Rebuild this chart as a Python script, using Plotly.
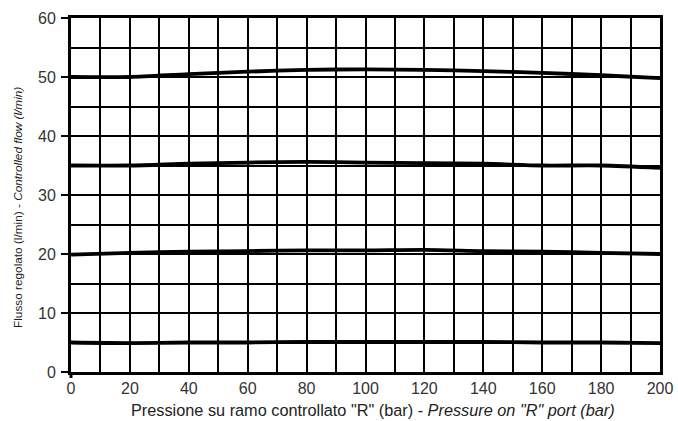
import plotly.graph_objects as go

pressure = [0, 20, 40, 60, 80, 100, 120, 140, 160, 180, 200]
flow_50 = [50.0, 50.0, 50.5, 50.9, 51.2, 51.3, 51.2, 51.0, 50.7, 50.3, 49.8]
flow_35 = [35.0, 35.0, 35.3, 35.5, 35.6, 35.5, 35.4, 35.3, 35.0, 35.0, 34.6]
flow_20 = [19.9, 20.2, 20.4, 20.5, 20.6, 20.6, 20.7, 20.5, 20.4, 20.2, 20.0]
flow_5 = [5.0, 4.9, 5.0, 5.0, 5.1, 5.1, 5.1, 5.1, 5.0, 5.0, 4.9]

x_ticks = [0, 20, 40, 60, 80, 100, 120, 140, 160, 180, 200]
y_ticks = [0, 10, 20, 30, 40, 50, 60]

x_title = 'Pressione su ramo controllato "R" (bar) - <i>Pressure on "R" port (bar)</i>'
y_title = "Flusso regolato (l/min) - <i>Controlled flow (l/min)</i>"

fig = go.Figure()
for ys in (flow_50, flow_35, flow_20, flow_5):
    fig.add_trace(go.Scatter(x=pressure, y=ys, mode="lines",
                             line=dict(color="black", width=3.8, shape="spline", smoothing=0.8),
                             showlegend=False, hoverinfo="skip"))

fam = "Liberation Sans, Arial, sans-serif"

fig.update_layout(
    width=678, height=421,
    margin=dict(l=71, r=18, t=18, b=49),
    paper_bgcolor="white", plot_bgcolor="white",
    font=dict(family=fam, size=15, color="#333333"),
    xaxis=dict(range=[0, 200], tickvals=x_ticks, showgrid=True, gridcolor="black", gridwidth=1.6,
               minor=dict(dtick=10, showgrid=True, gridcolor="black", gridwidth=1.6),
               showline=True, linecolor="black", linewidth=2.5, mirror=True,
               ticks="", zeroline=False, automargin=False,
               tickfont=dict(size=16, color="#333333")),
    yaxis=dict(range=[0, 60], tickvals=y_ticks, showgrid=True, gridcolor="black", gridwidth=1.6,
               minor=dict(dtick=5, showgrid=True, gridcolor="black", gridwidth=1.6),
               showline=True, linecolor="black", linewidth=3, mirror=True,
               ticks="outside", ticklen=7, tickwidth=2, tickcolor="black", zeroline=False,
               automargin=False, ticklabelstandoff=2,
               tickfont=dict(size=16, color="#333333")),
    shapes=[dict(type="line", xref="paper", yref="paper", x0=0, x1=0, y0=0, y1=-6 / 354,
                 line=dict(color="black", width=3))],
    annotations=[
        dict(text=x_title, xref="paper", yref="paper", x=(373 - 71) / 589, y=-(410 - 372) / 354,
             xanchor="center", yanchor="middle", showarrow=False,
             font=dict(family=fam, size=16.3, color="#222222")),
        dict(text=y_title, xref="paper", yref="paper", x=-(71 - 18) / 589, y=(372 - 208) / 354,
             xanchor="center", yanchor="middle", showarrow=False, textangle=-90,
             font=dict(family=fam, size=11.8, color="#222222")),
    ],
)

fig.write_html("out.html", config={"displayModeBar": False},
               post_script="document.body.style.margin='0';document.body.style.padding='0';")
